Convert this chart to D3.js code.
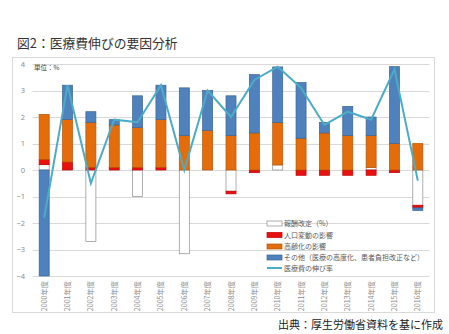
<!DOCTYPE html>
<html>
<head>
<meta charset="utf-8">
<script src="https://cdn.jsdelivr.net/npm/d3@7"></script>
<style>
  html, body { margin: 0; padding: 0; background: #fff; }
  svg { display: block; font-family: "Noto Sans CJK JP", "Noto Sans", sans-serif; }
</style>
</head>
<body>
<svg id="chart" width="449" height="334"></svg>
<script>
// 年度
const years = ["2000年度","2001年度","2002年度","2003年度","2004年度","2005年度","2006年度","2007年度","2008年度",
               "2009年度","2010年度","2011年度","2012年度","2013年度","2014年度","2015年度","2016年度"];
// 要因別の寄与（%）
const kaitei  = [0.2, 0.0, -2.7, 0.0, -1.0, 0.0, -3.16, 0.0, -0.8, 0.0, 0.19, 0.0, 0.0, 0.0, 0.1, 0.0, -1.33];
const jinko   = [0.2, 0.3, 0.1, 0.1, 0.1, 0.1, 0.0, 0.0, -0.1, -0.1, 0.0, -0.2, -0.2, -0.2, -0.2, -0.1, -0.1];
const koreika = [1.7, 1.6, 1.7, 1.6, 1.5, 1.8, 1.3, 1.5, 1.3, 1.4, 1.6, 1.2, 1.4, 1.3, 1.2, 1.0, 1.0];
const sonota  = [-4.0, 1.3, 0.4, 0.2, 1.2, 1.3, 1.8, 1.5, 1.5, 2.2, 2.1, 2.1, 0.4, 1.1, 0.7, 2.9, -0.1];
// 医療費の伸び率（%）
const nobiritsu = [-1.8, 3.2, -0.5, 1.9, 1.8, 3.2, 0.0, 3.0, 2.0, 3.4, 3.9, 3.1, 1.7, 2.2, 1.9, 3.8, -0.4];
const yTicks = [4, 3, 2, 1, 0, -1, -2, -3, -4];

const seriesNames = ["報酬改定（%）", "人口変動の影響", "高齢化の影響", "その他（医療の高度化、患者負担改正など）"];
const seriesData = [kaitei, jinko, koreika, sonota];
const fills   = ["#ffffff", "#e8110f", "#e46c0a", "#4f81bd"];
const strokes = ["#8c8c8c", "#c00000", "#b65608", "#3b6596"];
const lineName = "医療費の伸び率";
const lineColor = "#4bacc6";

const svg = d3.select("#chart");

// 枠
svg.append("rect").attr("x", 12.5).attr("y", 57.5).attr("width", 422).attr("height", 255)
  .attr("fill", "none").attr("stroke", "#d9d9d9").attr("stroke-width", 1);

// タイトル
svg.append("text").attr("x", 17).attr("y", 48).attr("font-size", 12.8).attr("fill", "#333")
  .text("図2：医療費伸びの要因分析");

// 出典
svg.append("text").attr("x", 443).attr("y", 329).attr("text-anchor", "end")
  .attr("font-size", 11).attr("fill", "#222").text("出典：厚生労働省資料を基に作成");

const x = d3.scaleBand().domain(years).range([32.5, 429.5]).paddingInner(0.57).paddingOuter(0.285);
const y = d3.scaleLinear().domain([-4, 4]).range([276, 64]);

// 目盛線
svg.append("g").selectAll("line").data(yTicks).join("line")
  .attr("x1", 32.5).attr("x2", 429.5)
  .attr("y1", d => Math.round(y(d)) + 0.5).attr("y2", d => Math.round(y(d)) + 0.5)
  .attr("stroke", "#d9d9d9").attr("stroke-width", 1);

// Y軸ラベル
const yAxis = d3.axisLeft(y).tickValues(yTicks).tickSize(0).tickPadding(0).tickFormat(d3.format("d"));
const gy = svg.append("g").attr("transform", "translate(25,0)").call(yAxis);
gy.select(".domain").remove();
gy.selectAll("text").attr("font-size", 7.5).attr("fill", "#8c8c8c")
  .style("font-family", "'Noto Sans', sans-serif");

// 単位
svg.append("text").attr("x", 34).attr("y", 69.5).attr("font-size", 6.5).attr("fill", "#404040")
  .text("単位：%");

// 積み上げ（正は上、負は下へ）
const rects = [];
years.forEach((yr, i) => {
  let pos = 0, neg = 0;
  seriesData.forEach((arr, s) => {
    const v = arr[i];
    if (v === 0) return;
    let y0, y1;
    if (v > 0) { y0 = pos; y1 = pos + v; pos = y1; }
    else { y0 = neg; y1 = neg + v; neg = y1; }
    rects.push({ yr, s, y0, y1 });
  });
});

svg.append("g").selectAll("rect").data(rects).join("rect")
  .attr("x", d => x(d.yr))
  .attr("width", x.bandwidth())
  .attr("y", d => y(Math.max(d.y0, d.y1)))
  .attr("height", d => Math.abs(y(d.y0) - y(d.y1)))
  .attr("fill", d => fills[d.s])
  .attr("stroke", d => strokes[d.s])
  .attr("stroke-width", 0.7);

// 伸び率の折れ線
const line = d3.line().x((d, i) => x(years[i]) + x.bandwidth() / 2).y(d => y(d));
svg.append("path").datum(nobiritsu).attr("d", line)
  .attr("fill", "none").attr("stroke", lineColor).attr("stroke-width", 2).attr("stroke-linejoin", "miter");

// X軸ラベル（縦書き回転）
svg.append("g").selectAll("text").data(years).join("text")
  .attr("transform", d => `translate(${x(d) + x.bandwidth() / 2 + 2.5},281) rotate(-90)`)
  .attr("text-anchor", "end")
  .attr("font-size", 7.2).attr("fill", "#8c8c8c")
  .text(d => d);

// 凡例
const legendY = [223.5, 235, 246.5, 257.5, 268];
const lg = svg.append("g");
seriesNames.forEach((name, s) => {
  lg.append("rect").attr("x", 267).attr("y", legendY[s] - 2.5).attr("width", 15).attr("height", 5)
    .attr("fill", fills[s]).attr("stroke", strokes[s]).attr("stroke-width", 0.7);
  lg.append("text").attr("x", 284).attr("y", legendY[s] + 2.5).attr("font-size", 7)
    .attr("fill", "#595959").text(name);
});
lg.append("line").attr("x1", 267).attr("x2", 282).attr("y1", legendY[4]).attr("y2", legendY[4])
  .attr("stroke", lineColor).attr("stroke-width", 2);
lg.append("text").attr("x", 284).attr("y", legendY[4] + 2.5).attr("font-size", 7)
  .attr("fill", "#595959").text(lineName);
</script>
</body>
</html>
